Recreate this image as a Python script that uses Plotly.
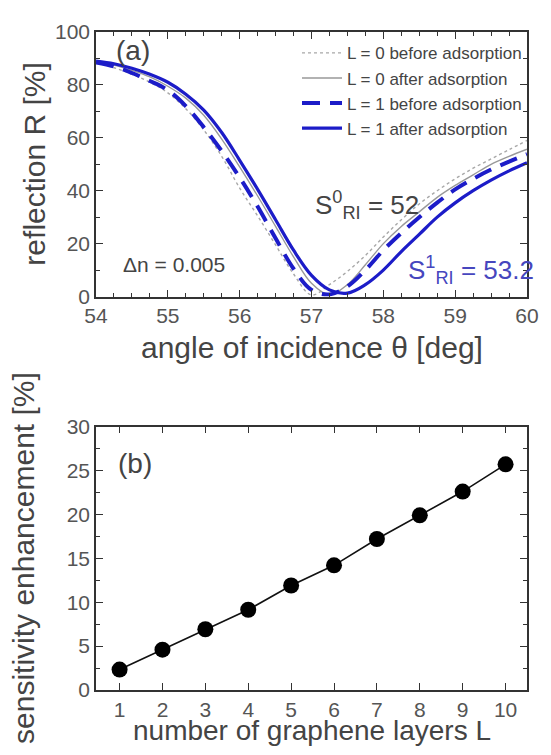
import plotly.graph_objects as go

# ---- panel (a): reflection curves ----
theta = [54, 54.25, 54.5, 54.75, 55, 55.25, 55.5, 55.75, 56, 56.25, 56.5, 56.75, 57,
         57.25, 57.5, 57.75, 58, 58.25, 58.5, 58.75, 59, 59.25, 59.5, 59.75, 60]
r_L0_before = [88.5, 86.5, 84, 81, 77, 71, 63, 53, 41, 30.5, 19.5, 8.5, 0.6,
               4.5, 9.5, 15.5, 22.5, 29, 35, 40, 44.5, 48.5, 52, 55.5, 59]
r_L0_after = [88.8, 87.5, 85.5, 83, 79.5, 75, 68.5, 59.5, 49, 38, 26.5, 15, 5,
              0.6, 4.5, 12, 20, 26.5, 32, 37.5, 42, 46, 50, 53, 55.7]
r_L1_before = [88.5, 87, 84.5, 81.5, 78, 72, 64, 55, 45, 34, 22, 10.5, 2.5,
               0.8, 3.8, 10, 17.5, 24, 30, 35.5, 40.5, 44.5, 48, 51, 53.8]
r_L1_after = [89, 88, 86.3, 84, 81, 76.5, 70.5, 62, 51.5, 40.5, 29, 17.5, 8,
              2.5, 1.3, 4.5, 10, 17, 23.5, 30, 35.4, 40, 44, 47.5, 50.6]

legend_names = ["L = 0 before adsorption", "L = 0 after adsorption",
                "L = 1 before adsorption", "L = 1 after adsorption"]

# ---- panel (b): sensitivity enhancement ----
layers = [1, 2, 3, 4, 5, 6, 7, 8, 9, 10]
enhancement = [2.33, 4.59, 6.92, 9.14, 11.9, 14.2, 17.2, 19.9, 22.6, 25.7]

BLUE = "rgb(28,28,200)"
GREY_TXT = "#444444"
FONT = "Liberation Sans, Arial, sans-serif"

fig = go.Figure()
fig.add_trace(go.Scatter(x=theta, y=r_L0_before, mode="lines", name=legend_names[0],
                         line=dict(color="#a8a8a8", width=1.4, dash="3px,3px", shape="spline"),
                         xaxis="x", yaxis="y"))
fig.add_trace(go.Scatter(x=theta, y=r_L0_after, mode="lines", name=legend_names[1],
                         line=dict(color="#999999", width=1.4, shape="spline"),
                         xaxis="x", yaxis="y"))
fig.add_trace(go.Scatter(x=theta, y=r_L1_before, mode="lines", name=legend_names[2],
                         line=dict(color=BLUE, width=4, dash="18px,10px", shape="spline"),
                         xaxis="x", yaxis="y"))
fig.add_trace(go.Scatter(x=theta, y=r_L1_after, mode="lines", name=legend_names[3],
                         line=dict(color=BLUE, width=3.2, shape="spline"),
                         xaxis="x", yaxis="y"))
fig.add_trace(go.Scatter(x=layers, y=enhancement, mode="lines+markers", showlegend=False,
                         line=dict(color="#111111", width=1.6),
                         marker=dict(color="#000000", size=16),
                         xaxis="x2", yaxis="y2"))

axis_common = dict(showline=True, linecolor="#333333", linewidth=1.5, mirror="ticks",
                   ticks="inside", tickcolor="#333333", ticklen=7, tickwidth=1.3,
                   showgrid=False, zeroline=False,
                   tickfont=dict(family=FONT, size=21, color="#555555"))
TITLE_FONT = dict(family=FONT, size=30, color=GREY_TXT)

# page body has an 8px margin: size the figure so the plot lands where the reference has it
fig.update_layout(
    width=543, height=739,
    margin=dict(l=88, r=14, t=15, b=57),
    paper_bgcolor="white", plot_bgcolor="white",
    font=dict(family=FONT, color=GREY_TXT),
    showlegend=True,
    legend=dict(x=1.0, xanchor="right", y=0.995, yanchor="top",
                bgcolor="rgba(0,0,0,0)", font=dict(family=FONT, size=17, color=GREY_TXT),
                tracegroupgap=0, itemwidth=40),
    xaxis=dict(domain=[0, 1], range=[54, 60], tickvals=[54, 55, 56, 57, 58, 59, 60],
               minor=dict(dtick=0.25, ticks="inside", ticklen=4, tickcolor="#333333"),
               anchor="y", **axis_common),
    yaxis=dict(domain=[0.598, 1], range=[0, 100], tickvals=[0, 20, 40, 60, 80, 100],
               minor=dict(dtick=10, ticks="inside", ticklen=4, tickcolor="#333333"),
               anchor="x", **axis_common),
    xaxis2=dict(domain=[0, 1], range=[0.45, 10.5], tickvals=layers,
                anchor="y2", **axis_common),
    yaxis2=dict(domain=[0, 0.4003], range=[0, 30], tickvals=[0, 5, 10, 15, 20, 25, 30],
                minor=dict(dtick=2.5, ticks="inside", ticklen=4, tickcolor="#333333"),
                anchor="x2", **axis_common),
)

# axis titles
fig.add_annotation(x=0.5, y=0.520, xref="paper", yref="paper",
                   xanchor="center", yanchor="middle",
                   text="angle of incidence θ [deg]", showarrow=False, font=TITLE_FONT)
fig.add_annotation(x=-0.143, y=0.799, xref="paper", yref="paper",
                   xanchor="center", yanchor="middle",
                   text="reflection R [%]", textangle=-90, showarrow=False, font=TITLE_FONT)
fig.add_annotation(x=0.5, y=-0.062, xref="paper", yref="paper",
                   xanchor="center", yanchor="middle",
                   text="number of graphene layers L", showarrow=False,
                   font=dict(family=FONT, size=28, color=GREY_TXT))
fig.add_annotation(x=-0.168, y=0.2, xref="paper", yref="paper",
                   xanchor="center", yanchor="middle",
                   text="sensitivity enhancement [%]", textangle=-90, showarrow=False,
                   font=TITLE_FONT)

ann_font = dict(family=FONT, color=GREY_TXT)
fig.add_annotation(x=54.52, y=93, xref="x", yref="y", text="(a)", showarrow=False,
                   font=dict(size=28, **ann_font))
fig.add_annotation(x=55.08, y=12, xref="x", yref="y", text="Δn = 0.005", showarrow=False,
                   font=dict(size=21, **ann_font))
fig.add_annotation(x=57.77, y=34.5, xref="x", yref="y",
                   text="S<sup>0</sup><sub>RI</sub> = 52", showarrow=False,
                   font=dict(size=26, **ann_font))
fig.add_annotation(x=59.22, y=10, xref="x", yref="y",
                   text="S<sup>1</sup><sub>RI</sub> = 53.2", showarrow=False,
                   font=dict(family=FONT, size=26, color="rgb(70,70,190)"))
fig.add_annotation(x=1.36, y=25.8, xref="x2", yref="y2", text="(b)", showarrow=False,
                   font=dict(size=28, **ann_font))

fig.write_html("out.html")
